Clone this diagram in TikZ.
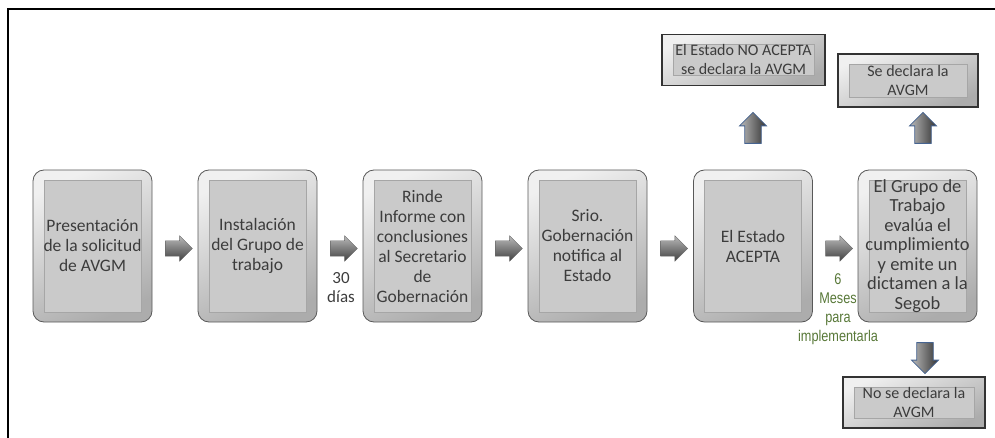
\documentclass[tikz,border=0pt]{standalone}
\usepackage{fontspec}
\setmainfont{Carlito}
\newfontfamily\narrowfont[FakeStretch=0.82]{Liberation Sans}
\usetikzlibrary{positioning,shapes,calc}
\definecolor{txtgray}{RGB}{60,60,60}
\definecolor{innergray}{RGB}{202,202,202}
\definecolor{mesgreen}{RGB}{88,120,56}
\definecolor{arrowblue}{RGB}{70,100,145}

\tikzset{
  bevel/.style={shading=axis, top color=gray!12, bottom color=gray!65, shading angle=25,
    draw=black!65, line width=0.8pt, text=txtgray, align=center, inner sep=0pt,
    path picture={\fill[innergray, draw=gray!70, line width=0.6pt, sharp corners]
      ([shift={(11pt,-10pt)}]path picture bounding box.north west) rectangle
      ([shift={(-11pt,10pt)}]path picture bounding box.south east);}},
  stepbox/.style={bevel, rounded corners=11pt, minimum width=119pt, minimum height=152pt,
    font=\fontsize{17.5}{20}\selectfont},
  resultbox/.style={bevel, draw=black!80, line width=1.6pt, minimum height=51pt,
    font=\fontsize{16}{19}\selectfont},
  rightarrow/.style={single arrow, single arrow head extend=5pt, minimum height=27pt,
    minimum width=25pt, inner sep=0pt, inner ysep=7.5pt, shading=axis,
    top color=gray!55, bottom color=black!75, draw=black!60, line width=0.4pt},
  vertarrow/.style={rightarrow, minimum height=31pt, minimum width=27pt, inner xsep=7.5pt,
    draw=arrowblue, line width=0.8pt, shading=axis, left color=gray!55, right color=black!80}
}

\begin{document}
\begin{tikzpicture}[x=1pt, y=1pt]
	\useasboundingbox (0,0) rectangle (995,-438);
	\draw[line width=2.2pt] (8,-438) -- (8,-9) -- (995,-9);
	% pasos
	\draw (92.5,-246)node[stepbox](s1){Presentación\\de la solicitud\\de AVGM};
	\draw (257.5,-246)node[stepbox](s2){Instalación\\del Grupo de\\trabajo};
	\draw (422.5,-246)node[stepbox](s3){Rinde\\Informe con\\conclusiones\\al Secretario\\de\\Gobernación};
	\draw (587.5,-246)node[stepbox](s4){Srio.\\Gobernación\\notifica al\\Estado};
	\draw (753,-246)node[stepbox](s5){El Estado\\ACEPTA};
	\draw (917.5,-246)node[stepbox, font=\fontsize{18.5}{19.5}\selectfont](s6){El Grupo de\\Trabajo\\evalúa el\\cumplimiento\\y emite un\\dictamen a la\\Segob};
	% resultados
	\draw (743.5,-60)node[resultbox, minimum width=163pt](noacepta){El Estado NO ACEPTA\\se declara la AVGM};
	\draw (908,-80.5)node[resultbox, minimum width=140pt, minimum height=53pt](declara){Se declara la\\AVGM};
	\draw (914,-402.5)node[resultbox, minimum width=142pt](nodeclara){No se declara la\\AVGM};
	% flechas
	\foreach \i/\j in {1/2,2/3,3/4,4/5,5/6}
		\node[rightarrow] (f\i) at ($(s\i.east)!0.5!(s\j.west)+(0,-2.5)$) {};
	\draw (753,-132)node[vertarrow, shape border rotate=90](up1){};
	\draw (923,-132)node[vertarrow, shape border rotate=90](up2){};
	\draw (925,-354)node[vertarrow, shape border rotate=270](down1){};
	% plazos
	\draw (341,-288)node[text=txtgray, align=center, font=\fontsize{17}{19}\selectfont](dias){30\\días};
	\draw (838,-309)node[text=mesgreen, align=center, font=\narrowfont\fontsize{15.5}{19}\selectfont](meses){6\\Meses\\para\\implementarla};
\end{tikzpicture}
\end{document}
